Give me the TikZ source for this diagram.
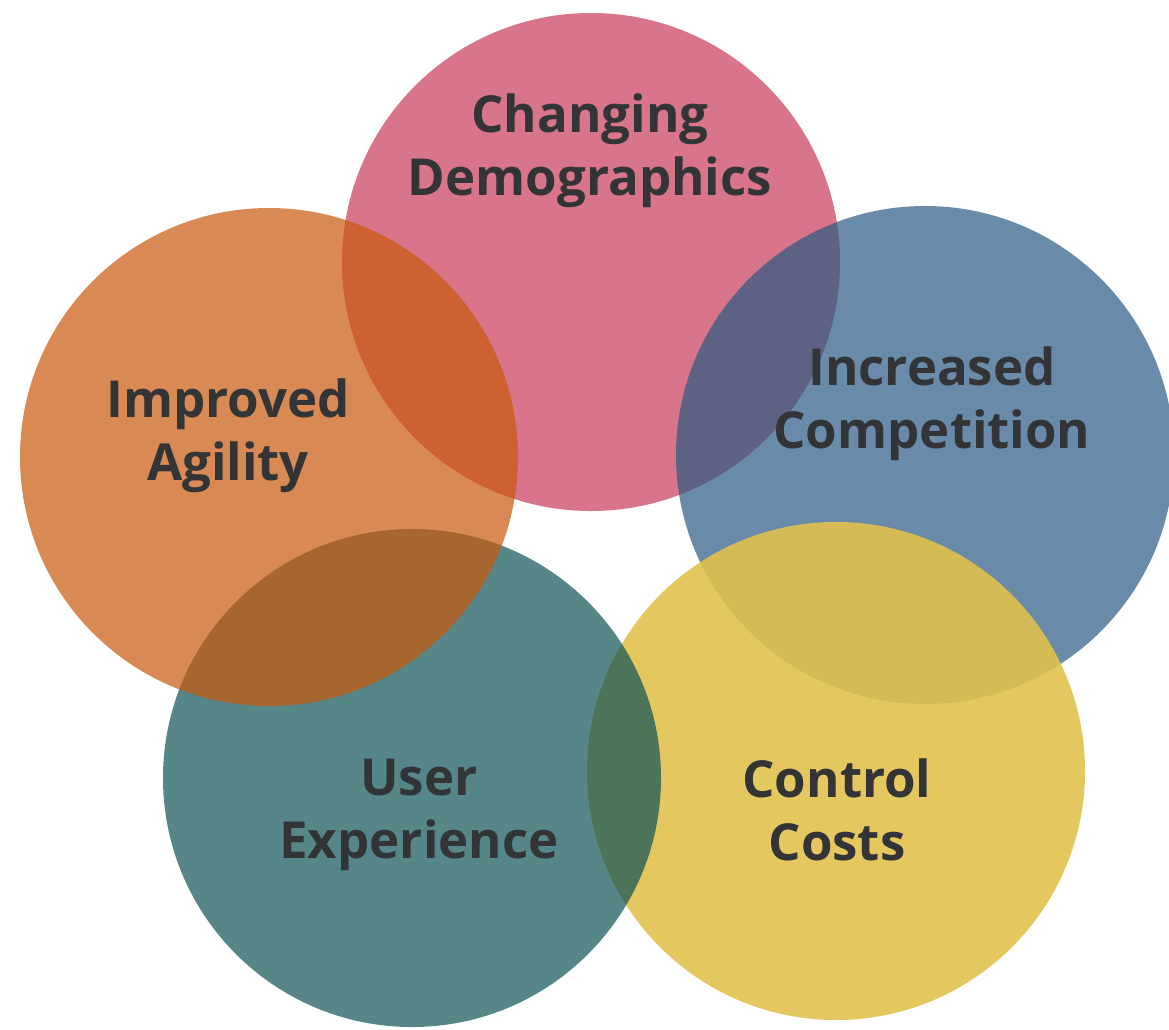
\documentclass[tikz,border=0pt]{standalone}
\usepackage{fontspec}
\setmainfont{Open Sans}
\definecolor{pinkc}{RGB}{199,59,88}
\definecolor{bluec}{RGB}{42,89,131}
\definecolor{yellowc}{RGB}{225,193,78}
\definecolor{tealc}{RGB}{14,82,85}
\definecolor{orangec}{RGB}{201,88,12}
\definecolor{txt}{RGB}{50,52,54}
\begin{document}
\begin{tikzpicture}[x=1pt,y=-1pt,
  circ/.style={circle, minimum size=498pt, inner sep=0pt, draw=none, fill opacity=0.7},
  lbl/.style={font=\bfseries\fontsize{51}{63}\selectfont, text=txt, align=center, anchor=base, inner sep=0pt}]
\useasboundingbox (0,0) rectangle (1169,1029);
\node[circ, fill=pinkc] (pink) at (591,262) {};
\node[circ, fill=bluec] (blue) at (925,455) {};
\node[circ, fill=yellowc, fill opacity=0.9] (yellow) at (836,771) {};
\node[circ, fill=tealc] (teal) at (412,778) {};
\node[circ, fill=orangec] (orange) at (269,457) {};
\node[lbl] (tdemo) at (590,195) {Changing\\Demographics};
\node[lbl] (tagil) at (228,480) {Improved\\Agility};
\node[lbl] (tcomp) at (932,448) {Increased\\Competition};
\node[lbl] (tuser) at (419,858) {User\\Experience};
\node[lbl] (tcost) at (837,860) {Control\\Costs};
\end{tikzpicture}
\end{document}
